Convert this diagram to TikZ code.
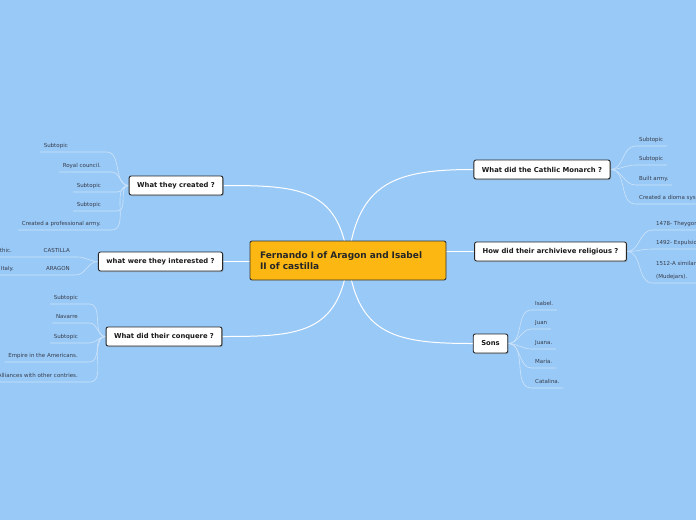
\documentclass[tikz,border=0pt]{standalone}
\usepackage{fontspec}
\setmainfont{DejaVu Sans}
\usetikzlibrary{shadows,backgrounds}

\definecolor{skyblue}{RGB}{153,201,246}
\definecolor{hubgold}{RGB}{252,183,19}
\definecolor{twigblue}{RGB}{206,228,251}
\definecolor{leafgray}{RGB}{55,60,75}

\tikzset{
  hubbox/.style={draw=black!80,line width=0.9pt,fill=hubgold,rounded corners=2pt,
    text=black!85,font=\bfseries\fontsize{9}{11}\selectfont,align=left,
    text width=176pt,inner xsep=10pt,minimum height=39pt},
  topic/.style={draw=black!85,line width=0.9pt,fill=white,rounded corners=2pt,
    text=black!90,font=\bfseries\fontsize{6.8}{8}\selectfont,inner xsep=8pt,
    minimum height=19pt,
    drop shadow={opacity=0.35,shadow xshift=1pt,shadow yshift=-1pt}},
  leaf/.style={text=leafgray,font=\fontsize{5.5}{6}\selectfont,inner xsep=3.5pt,
    inner ysep=4pt,text height=3.9pt,text depth=0pt},
  branch/.style={draw=white,line width=1pt},
  twig/.style={draw=twigblue,line width=0.6pt},
}

\begin{document}
\begin{tikzpicture}[x=1pt,y=1pt,line join=round,line cap=round]

  \useasboundingbox (0,0) rectangle (696,-520);
  \clip (0,0) rectangle (696,-520);

  % ---- central topic ----
  \node[hubbox] (hub) at (348,-260.5) {Fernando I of Aragon and Isabel\\II of castilla};

  % ---- main topics ----
  \node[topic] (created) at (176,-185.5) {What they created ?};
  \node[topic] (interest) at (160.5,-261.5) {what were they interested ?};
  \node[topic] (conquer) at (164,-336.5) {What did their conquere ?};
  \node[topic] (monarch) at (542,-169.5) {What did the Cathlic Monarch ?};
  \node[topic] (religion) at (550.5,-251.5) {How did their archivieve religious ?};
  \node[topic] (sons) at (490.5,-343.5) {Sons};

  % ---- leaves: what they created ----
  \node[leaf,anchor=south east] (c1) at (71.5,-152) {Subtopic};
  \node[leaf,anchor=south east] (c2) at (104.5,-172) {Royal council.};
  \node[leaf,anchor=south east] (c3) at (104.5,-192) {Subtopic};
  \node[leaf,anchor=south east] (c4) at (104.5,-211) {Subtopic};
  \node[leaf,anchor=south east] (c5) at (104.5,-230) {Created a professional army.};

  % ---- leaves: interested ----
  \node[leaf,anchor=south east] (i1) at (73.5,-257) {CASTILLA};
  \node[leaf,anchor=south east] (i1a) at (15.5,-257) {thic.};
  \node[leaf,anchor=south east] (i2) at (73.5,-275) {ARAGON};
  \node[leaf,anchor=south east] (i2a) at (17.5,-275) {Italy.};

  % ---- leaves: conquere ----
  \node[leaf,anchor=south east] (k1) at (81.5,-304) {Subtopic};
  \node[leaf,anchor=south east] (k2) at (81.5,-323) {Navarre};
  \node[leaf,anchor=south east] (k3) at (81.5,-343) {Subtopic};
  \node[leaf,anchor=south east] (k4) at (81.5,-362) {Empire in the Americans.};
  \node[leaf,anchor=south east] (k5) at (81.5,-382) {Alliances with other contries.};

  % ---- leaves: cathlic monarch ----
  \node[leaf,anchor=south west] (m1) at (635.5,-146) {Subtopic};
  \node[leaf,anchor=south west] (m2) at (635.5,-165) {Subtopic};
  \node[leaf,anchor=south west] (m3) at (635.5,-185) {Built army.};
  \node[leaf,anchor=south west] (m4) at (635.5,-204) {Created a dioma sys};

  % ---- leaves: religious ----
  \node[leaf,anchor=south west] (r1) at (652.5,-230) {1478- Theygon};
  \node[leaf,anchor=south west] (r2) at (652.5,-249) {1492- Expulsio};
  \node[leaf,anchor=south west,align=left,font=\fontsize{5.5}{13}\selectfont] (r3) at (652.5,-283) {1512-A similar\\(Mudejars).};

  % ---- leaves: sons ----
  \node[leaf,anchor=south west] (s1) at (531.5,-310) {Isabel.};
  \node[leaf,anchor=south west] (s2) at (531.5,-329) {Juan};
  \node[leaf,anchor=south west] (s3) at (531.5,-349) {Juana.};
  \node[leaf,anchor=south west] (s4) at (531.5,-368) {Maria.};
  \node[leaf,anchor=south west] (s5) at (531.5,-388) {Catalina.};

  \begin{scope}[on background layer]
    \fill[skyblue] (0,0) rectangle (696,-520);

    % ---- branches from the centre ----
    \draw[branch] (hub.center) to[out=97,in=0,looseness=1.3] (created.east);
    \draw[branch] (hub.center) to[out=83,in=180,looseness=1.3] (monarch.west);
    \draw[branch] (hub.center) to[out=-97,in=0,looseness=1.3] (conquer.east);
    \draw[branch] (hub.center) to[out=-83,in=180,looseness=1.3] (sons.west);
    \draw[branch] (interest.east) -- (hub.west |- interest.east);
    \draw[branch] (religion.west) -- (hub.east |- religion.west);

    % ---- twigs, left side ----
    \draw[twig] (c1.south west) -- (c1.south east) -- ++(35,0) to[out=0,in=180] (created.west);
    \draw[twig] (c2.south west) -- (c2.south east) -- ++(7,0) to[out=0,in=180] (created.west);
    \draw[twig] (c3.south west) -- (c3.south east) -- ++(13,0) to[out=0,in=180] (created.west);
    \draw[twig] (c4.south west) -- (c4.south east) -- ++(13,0) to[out=0,in=180] (created.west);
    \draw[twig] (c5.south west) -- (c5.south east) -- ++(7,0) to[out=0,in=180] (created.west);

    \draw[twig] (i1a.south west) -- (i1.south east) -- ++(4,0) to[out=0,in=180] (interest.west);
    \draw[twig] (i2a.south west) -- (i2.south east) -- ++(2,0) to[out=0,in=180] (interest.west);

    \draw[twig] (k1.south west) -- (k1.south east) -- ++(8,0) to[out=0,in=180] (conquer.west);
    \draw[twig] (k2.south west) -- (k2.south east) -- ++(8,0) to[out=0,in=180] (conquer.west);
    \draw[twig] (k3.south west) -- (k3.south east) -- ++(8,0) to[out=0,in=180] (conquer.west);
    \draw[twig] (k4.south west) -- (k4.south east) -- ++(8,0) to[out=0,in=180] (conquer.west);
    \draw[twig] (k5.south west) -- (k5.south east) -- ++(8,0) to[out=0,in=180] (conquer.west);

    % ---- twigs, right side ----
    \draw[twig] (monarch.east) to[out=0,in=180] (m1.south west) -- (m1.south east);
    \draw[twig] (monarch.east) to[out=0,in=180] (m2.south west) -- (m2.south east);
    \draw[twig] (monarch.east) to[out=0,in=180] (m3.south west) -- (m3.south east);
    \draw[twig] (monarch.east) to[out=0,in=180] (m4.south west) -- (m4.south east);

    \draw[twig] (religion.east) to[out=0,in=180] (r1.south west) -- (r1.south east);
    \draw[twig] (religion.east) to[out=0,in=180] (r2.south west) -- (r2.south east);
    \draw[twig] (religion.east) to[out=0,in=180] (r3.south west) -- (r3.south east);

    \draw[twig] (sons.east) to[out=0,in=180] (s1.south west) -- (s1.south east);
    \draw[twig] (sons.east) to[out=0,in=180] (s2.south west) -- (s2.south east);
    \draw[twig] (sons.east) to[out=0,in=180] (s3.south west) -- (s3.south east);
    \draw[twig] (sons.east) to[out=0,in=180] (s4.south west) -- (s4.south east);
    \draw[twig] (sons.east) to[out=0,in=180] (s5.south west) -- (s5.south east);
  \end{scope}

\end{tikzpicture}
\end{document}
